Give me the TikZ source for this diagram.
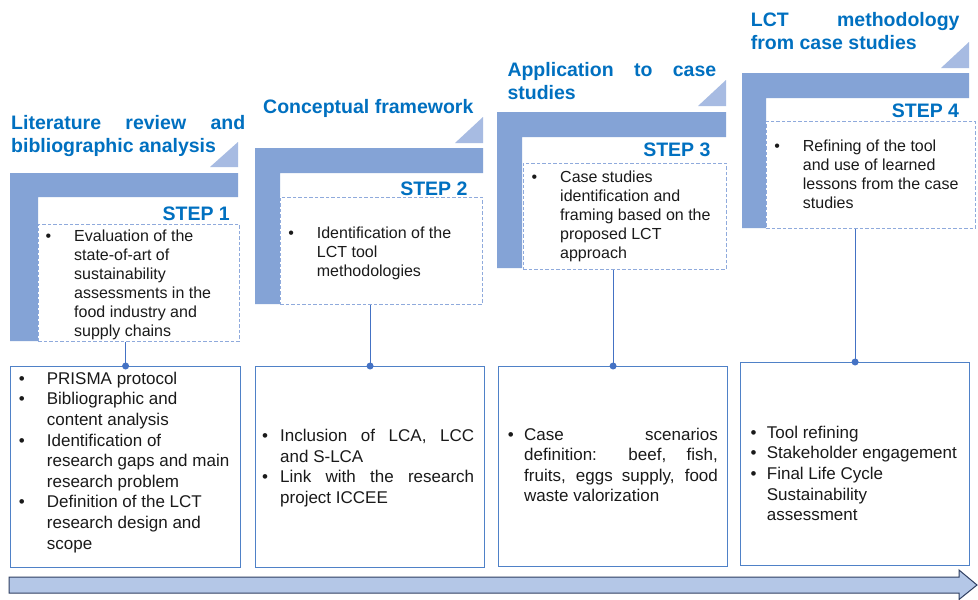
\documentclass[tikz,border=0pt]{standalone}
\usepackage{fontspec}
\setmainfont{Liberation Sans}
\definecolor{barblue}{HTML}{84A3D6}
\definecolor{triblue}{HTML}{A7BBE2}
\definecolor{titleblue}{HTML}{0070C0}
\definecolor{dashblue}{HTML}{8FAADC}
\definecolor{boxblue}{HTML}{4F81C7}
\definecolor{connblue}{HTML}{4472C4}
\definecolor{arrfill}{HTML}{B4C7E7}
\definecolor{arrdraw}{HTML}{2F3F62}
\definecolor{txt}{HTML}{1A1A1A}
\newdimen\bcol
\newcommand\txtblock[2]{\vtop{\hsize=#1\relax #2}}
\newcommand\bulL[1]{\hbox to\hsize{\hbox to\bcol{\textbullet\hfil}#1\hfil}}
\newcommand\conL[1]{\hbox to\hsize{\hskip\bcol #1\hfil}}
\newcommand\bulJ[1]{\hbox to\hsize{\hbox to\bcol{\textbullet\hfil}\hbox to\dimexpr\hsize-\bcol\relax{#1}}}
\newcommand\conJ[1]{\hbox to\hsize{\hskip\bcol\hbox to\dimexpr\hsize-\bcol\relax{#1}}}
\newcommand\jusL[1]{\hbox to\hsize{#1}}
\newcommand\lefL[1]{\hbox to\hsize{#1\hfil}}
\begin{document}
\begin{tikzpicture}[x=1pt,y=-1pt,
  bar/.style={fill=barblue, draw=none},
  tri/.style={fill=triblue, draw=none},
  title/.style={font=\fontsize{19.5}{23}\selectfont\bfseries, text=titleblue, inner sep=0pt, anchor=base west},
  steplbl/.style={font=\fontsize{19.5}{23}\selectfont\bfseries, text=titleblue, inner sep=0pt, anchor=base east},
  stxt/.style={font=\fontsize{16}{18.9}\selectfont, text=txt, inner sep=0pt, anchor=base west},
  btxt/.style={font=\fontsize{17}{20.6}\selectfont, text=txt, inner sep=0pt, anchor=base west},
  dbox/.style={draw=dashblue, dash pattern=on 3.5pt off 2pt, line width=0.9pt, fill=white, inner sep=0pt, anchor=north west},
  bbox/.style={draw=boxblue, line width=1.2pt, inner sep=0pt, anchor=north west},
  conn/.style={draw=connblue, line width=1pt},
  dot/.style={fill=connblue},
  bigarrow/.style={fill=arrfill, draw=arrdraw, line width=1pt, line join=miter}
]
\fill[white] (0,0) rectangle (978,600);
\useasboundingbox (0,0) rectangle (978,600);

% frames
\fill[bar] (10,173) -- (238,173) -- (238,197) -- (38,197) -- (38,341) -- (10,341) -- cycle;
\fill[bar] (255,148) -- (483,148) -- (483,173) -- (280,173) -- (280,304) -- (255,304) -- cycle;
\fill[bar] (497,112) -- (726,112) -- (726,137) -- (522,137) -- (522,268) -- (497,268) -- cycle;
\fill[bar] (742,73) -- (969,73) -- (969,98) -- (766,98) -- (766,228) -- (742,228) -- cycle;
% triangles
\fill[tri] (210,167) -- (238,167) -- (238,142) -- cycle;
\fill[tri] (455,143) -- (483,143) -- (483,117) -- cycle;
\fill[tri] (698,106) -- (726,106) -- (726,80) -- cycle;
\fill[tri] (941,68) -- (969,68) -- (969,42) -- cycle;

% dashed boxes
\node[dbox, minimum width=201pt, minimum height=117pt] (d1) at (38,224) {};
\node[dbox, minimum width=202pt, minimum height=107pt] (d2) at (280,197) {};
\node[dbox, minimum width=203pt, minimum height=106pt] (d3) at (523,163) {};
\node[dbox, minimum width=209pt, minimum height=107pt] (d4) at (766,121) {};

% bottom boxes
\node[bbox, minimum width=230pt, minimum height=201pt] (b1) at (10,366) {};
\node[bbox, minimum width=229pt, minimum height=201pt] (b2) at (255,366) {};
\node[bbox, minimum width=229pt, minimum height=200pt] (b3) at (498,366) {};
\node[bbox, minimum width=229pt, minimum height=203pt] (b4) at (740,362) {};

% connectors
\draw[conn] (b1.north) -- (b1.north |- d1.south);
\draw[conn] (b2.north) -- (b2.north |- d2.south);
\draw[conn] (b3.north) -- (b3.north |- d3.south);
\draw[conn] (b4.north) -- (b4.north |- d4.south);
\fill[dot] (b1.north) circle (3.5pt);
\fill[dot] (b2.north) circle (3.5pt);
\fill[dot] (b3.north) circle (3.5pt);
\fill[dot] (b4.north) circle (3.5pt);

% titles
\node[title] (tt1) at (11,129.3) {\txtblock{234pt}{\jusL{Literature review and}\lefL{bibliographic analysis}}};
\node[title] (tt2) at (263,113.3) {Conceptual framework};
\node[title] (tt3) at (507.3,76.7) {\txtblock{208.7pt}{\jusL{Application to case}\lefL{studies}}};
\node[title] (tt4) at (750.7,26) {\txtblock{208.6pt}{\jusL{LCT methodology}\lefL{from case studies}}};

% step labels
\node[steplbl] (s1) at (230,220) {STEP 1};
\node[steplbl] (s2) at (467.7,195) {STEP 2};
\node[steplbl] (s3) at (710.7,156.7) {STEP 3};
\node[steplbl] (s4) at (959.3,117.7) {STEP 4};

% step box texts
\node[stxt] (x1) at (45.5,241.7) {\txtblock{190pt}{\bcol=28.5pt
  \bulL{Evaluation of the}\conL{state-of-art of}\conL{sustainability}\conL{assessments in the}\conL{food industry and}\conL{supply chains}}};
\node[stxt] (x2) at (288.2,238.3) {\txtblock{190pt}{\bcol=28.5pt
  \bulL{Identification of the}\conL{LCT tool}\conL{methodologies}}};
\node[stxt] (x3) at (531.5,182.7) {\txtblock{190pt}{\bcol=28.5pt
  \bulL{Case studies}\conL{identification and}\conL{framing based on the}\conL{proposed LCT}\conL{approach}}};
\node[stxt] (x4) at (774.2,151.7) {\txtblock{190pt}{\bcol=28.5pt
  \bulL{Refining of the tool}\conL{and use of learned}\conL{lessons from the case}\conL{studies}}};

% bottom box texts
\node[btxt] (y1) at (18.7,384.3) {\txtblock{220pt}{\bcol=28pt
  \bulL{PRISMA protocol}
  \bulL{Bibliographic and}\conL{content analysis}
  \bulL{Identification of}\conL{research gaps and main}\conL{research problem}
  \bulL{Definition of the LCT}\conL{research design and}\conL{scope}}};
\node[btxt] (y2) at (262,441.7) {\txtblock{212pt}{\bcol=18pt
  \bulJ{Inclusion of LCA, LCC}\conL{and S-LCA}
  \bulJ{Link with the research}\conL{project ICCEE}}};
\node[btxt] (y3) at (507.7,440) {\txtblock{210pt}{\bcol=16.3pt
  \bulJ{Case scenarios}\conJ{definition: beef, fish,}\conJ{fruits, eggs supply, food}\conL{waste valorization}}};
\node[btxt] (y4) at (750.3,438.3) {\txtblock{215pt}{\bcol=16.4pt
  \bulL{Tool refining}\bulL{Stakeholder engagement}\bulL{Final Life Cycle}\conL{Sustainability}\conL{assessment}}};

% timeline arrow
\draw[bigarrow] (9,577) -- (959,577) -- (959,570) -- (977,585) -- (959,599.5) -- (959,593) -- (9,593) -- cycle;
\end{tikzpicture}
\end{document}
